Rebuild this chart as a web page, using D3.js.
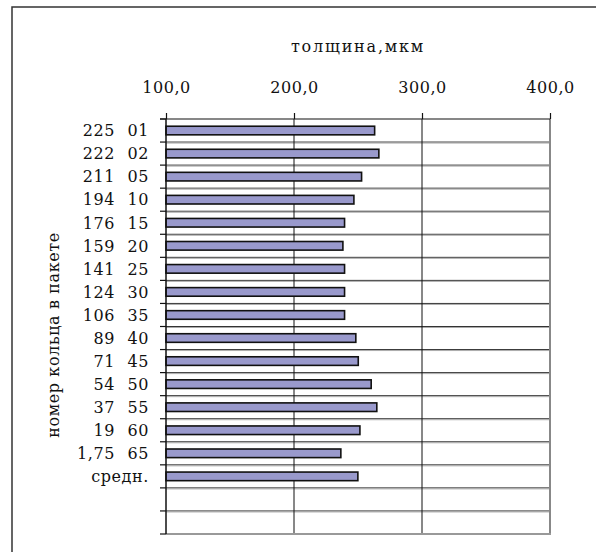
<!DOCTYPE html>
<html>
<head>
<meta charset="utf-8">
<script src="https://cdn.jsdelivr.net/npm/d3@7"></script>
<style>
  html, body { margin: 0; padding: 0; background: #fff; overflow: hidden; }
  #chart { width: 596px; height: 552px; overflow: hidden; }
  svg { display: block; }
  text { font-family: "DejaVu Serif", serif; fill: #111; }
</style>
</head>
<body>
<div id="chart"></div>
<script>
// Ring position in the pack (first column) and ring number (second column)
const positions = ["225", "222", "211", "194", "176", "159", "141", "124", "106", "89", "71", "54", "37", "19", "1,75"];
const rings     = ["01", "02", "05", "10", "15", "20", "25", "30", "35", "40", "45", "50", "55", "60", "65"];
// Measured thickness, µm
const thickness = [263.0, 266.3, 252.8, 246.8, 239.5, 238.2, 239.5, 239.5, 239.5, 248.3, 250.2, 260.3, 264.7, 251.5, 236.6];
// Average row
const avgLabel = "средн.";
const avgValue = 249.9;
// Two trailing empty rows in the category axis
const emptyRows = ["", ""];
const xTicks = [100, 200, 300, 400];
const xTitle = "толщина,мкм";
const yTitle = "номер кольца в пакете";

const W = 596, H = 552;
const plotL = 166, plotR = 550, plotT = 119, plotB = 534;

const rows = positions.map((p, i) => ({ key: "r" + i, pos: p, ring: rings[i], value: thickness[i] }));
rows.push({ key: "avg", pos: "", ring: avgLabel, value: avgValue });
emptyRows.forEach((e, i) => rows.push({ key: "e" + i, pos: "", ring: e, value: null }));

const svg = d3.select("#chart").append("svg").attr("width", W).attr("height", H);

// outer frame: only its top and left edges fall inside the view
svg.append("path")
  .attr("d", `M12,${H}V7H${W}`)
  .attr("fill", "none").attr("stroke", "#333").attr("stroke-width", 1.5);

const x = d3.scaleLinear().domain([100, 400]).range([plotL, plotR]);
const y = d3.scaleBand().domain(rows.map(d => d.key)).range([plotT, plotB]).paddingInner(0).paddingOuter(0);
const bw = y.bandwidth();

// horizontal gridlines at band boundaries
const bounds = d3.range(rows.length + 1).map(i => plotT + i * bw);
const g = svg.append("g");
bounds.slice(1, -1).forEach(b => {
  g.append("line").attr("x1", plotL).attr("x2", plotR).attr("y1", b).attr("y2", b)
    .attr("stroke", "#333").attr("stroke-width", 1);
  g.append("line").attr("x1", plotL).attr("x2", plotR).attr("y1", b + 1).attr("y2", b + 1)
    .attr("stroke", "#aaa").attr("stroke-width", 1);
});
// vertical gridlines
xTicks.slice(1, -1).forEach(t => {
  g.append("line").attr("x1", x(t)).attr("x2", x(t)).attr("y1", plotT).attr("y2", plotB)
    .attr("stroke", "#111").attr("stroke-width", 1);
});
// right and bottom plot borders
g.append("line").attr("x1", plotR).attr("x2", plotR).attr("y1", plotT).attr("y2", plotB + 1)
  .attr("stroke", "#888").attr("stroke-width", 2);
g.append("line").attr("x1", plotL).attr("x2", plotR + 1).attr("y1", plotB).attr("y2", plotB)
  .attr("stroke", "#999").attr("stroke-width", 2);

// bars
const barH = 8.6;
svg.append("g").selectAll("rect")
  .data(rows.filter(d => d.value !== null))
  .join("rect")
  .attr("x", x(100))
  .attr("y", d => y(d.key) + bw / 2 - barH / 2)
  .attr("width", d => x(d.value) - x(100))
  .attr("height", barH)
  .attr("fill", "#9999cc")
  .attr("stroke", "#111")
  .attr("stroke-width", 1.6);

// top axis
const xAxis = d3.axisTop(x).tickValues(xTicks).tickSize(6).tickPadding(20)
  .tickFormat(d => d3.format(".1f")(d).replace(".", ","));
const xa = svg.append("g").attr("transform", `translate(0,${plotT})`).call(xAxis);
xa.select(".domain").attr("stroke", "#111").attr("stroke-width", 1.2).attr("d", `M${plotL - 6},0H${plotR}`);
xa.selectAll(".tick line").attr("stroke", "#111").attr("stroke-width", 1.2);
xa.selectAll(".tick text").attr("font-family", "DejaVu Serif").attr("font-size", 16)
  .attr("letter-spacing", 0.5).attr("fill", "#111");

// left axis line with ticks at band boundaries
const ya = svg.append("g");
ya.append("line").attr("x1", plotL).attr("x2", plotL).attr("y1", plotT).attr("y2", plotB)
  .attr("stroke", "#111").attr("stroke-width", 1.5);
bounds.forEach(b => {
  ya.append("line").attr("x1", plotL - 6).attr("x2", plotL).attr("y1", b).attr("y2", b)
    .attr("stroke", "#111").attr("stroke-width", 1.2);
});

// category labels in two columns
const lab = svg.append("g").attr("font-size", 16).attr("letter-spacing", 0.6);
lab.selectAll("text.pos").data(rows).join("text")
  .attr("class", "pos")
  .attr("x", 115).attr("y", d => y(d.key) + bw / 2).attr("dy", "0.36em")
  .attr("text-anchor", "end").text(d => d.pos);
lab.selectAll("text.ring").data(rows).join("text")
  .attr("class", "ring")
  .attr("x", 149).attr("y", d => y(d.key) + bw / 2).attr("dy", "0.36em")
  .attr("text-anchor", "end").text(d => d.ring);

// titles
svg.append("text").attr("x", 358).attr("y", 52).attr("text-anchor", "middle")
  .attr("font-size", 16).attr("letter-spacing", 1.8).text(xTitle);
svg.append("text").attr("transform", "translate(59,335) rotate(-90)")
  .attr("text-anchor", "middle").attr("font-size", 16).attr("letter-spacing", 0.6).text(yTitle);
</script>
</body>
</html>
